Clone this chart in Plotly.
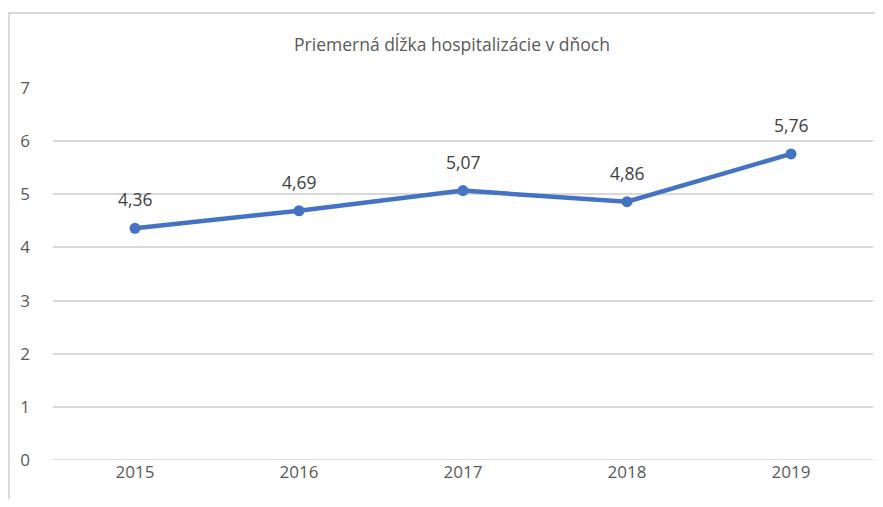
import plotly.graph_objects as go

years = ["2015", "2016", "2017", "2018", "2019"]
values = [4.36, 4.69, 5.07, 4.86, 5.76]
labels = ["4,36", "4,69", "5,07", "4,86", "5,76"]
title_text = "Priemerná dĺžka hospitalizácie v dňoch"

OFF = 8  # page body margin
W, H = 883 - 2 * OFF, 507 - 2 * OFF
L, R, T, B = 53 - OFF, W - (873 - OFF), 88 - OFF, H - (460 - OFF)
pw, ph = W - L - R, H - T - B

fig = go.Figure()
fig.add_trace(go.Scatter(
    x=years, y=values, mode="lines+markers",
    line=dict(color="#4472C4", width=4.5),
    marker=dict(size=11, color="#4472C4"),
    cliponaxis=False,
))
for i, (v, lab) in enumerate(zip(values, labels)):
    fig.add_annotation(x=i, y=v, xref="x", yref="y", text=lab, showarrow=False,
                       yshift=29, yanchor="middle",
                       font=dict(size=17.5, color="#404040", family="Open Sans"))

fig.update_layout(
    width=W, height=H,
    margin=dict(l=L, r=R, t=T, b=B),
    paper_bgcolor="white", plot_bgcolor="white",
    showlegend=False,
    font=dict(family="Open Sans", color="#595959"),
    title=dict(text=title_text, x=(452 - 53) / pw, xref="paper", xanchor="center",
               y=1 - (45 - OFF) / H, yanchor="middle",
               font=dict(size=17.5, color="#595959", family="Open Sans")),
    xaxis=dict(type="category", range=[-0.5, 4.5], showgrid=False, zeroline=False,
               showline=False, ticks="", tickfont=dict(size=17, color="#595959")),
    yaxis=dict(range=[0, 7], dtick=1, showgrid=True, gridcolor="#d9d9d9", gridwidth=1.5,
               zeroline=False, showline=False, ticks="", ticklabelstandoff=22,
               tickfont=dict(size=17, color="#595959")),
    shapes=[dict(type="rect", xref="paper", yref="paper",
                 x0=(9 - 53) / pw, x1=1.1, y0=-0.3, y1=1 + (88 - 13) / ph,
                 line=dict(color="#d9d9d9", width=2), layer="below")],
)
fig.add_hline(y=0, line=dict(color="#d9d9d9", width=2))

fig.write_html("out.html")
